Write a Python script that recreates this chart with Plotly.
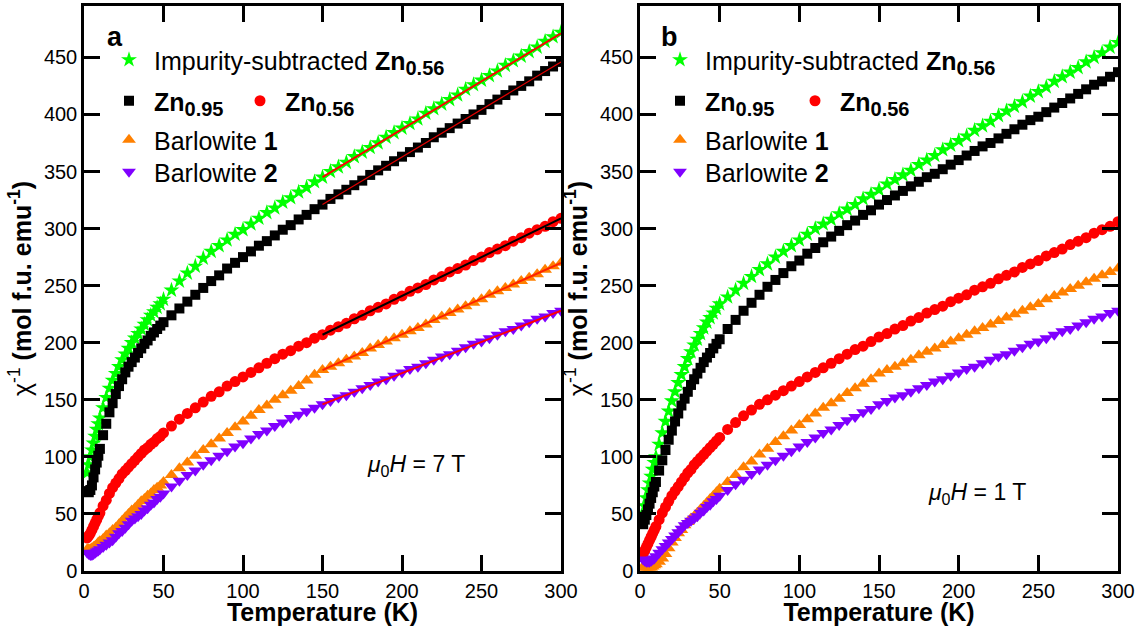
import plotly.graph_objects as go

# Temperature grid (K)
T = [2, 3, 4, 5, 6, 7, 8, 9, 10,
     12, 14, 16, 18, 20, 22, 24, 26, 28, 30, 32, 34, 36, 38, 40, 42, 44, 46, 48, 50,
     55, 60, 65, 70, 75, 80, 85, 90, 95, 100, 105, 110, 115, 120, 125, 130, 135, 140, 145, 150,
     155, 160, 165, 170, 175, 180, 185, 190, 195, 200, 205, 210, 215, 220, 225, 230, 235, 240, 245, 250,
     255, 260, 265, 270, 275, 280, 285, 290, 295, 300]

# ---- Panel a (7 T) ----
green_a = [86, 93, 100, 106, 112, 118, 124, 129, 134,
           143, 152, 160, 167, 173, 179, 185, 190, 195, 200, 204, 208, 212, 216, 220, 224, 227, 231, 234, 238,
           246, 254, 261, 267, 274, 280, 285, 290, 295, 299, 304, 309, 314, 318, 323, 327, 332, 336, 341, 345,
           350, 354, 358, 363, 367, 371, 375, 380, 384, 388, 392, 396, 401, 405, 409, 413, 417, 422, 426, 430,
           434, 438, 443, 447, 451, 455, 459, 464, 468, 472]
black_a = [70, 69, 71, 75, 82, 89, 95, 101, 107,
           119, 129, 139, 147, 155, 162, 168, 174, 179, 183, 187, 191, 195, 199, 202, 206, 209, 212, 215, 218,
           224, 230, 236, 242, 248, 254, 259, 265, 270, 275, 280, 285, 289, 294, 299, 303, 308, 312, 317, 321,
           326, 330, 334, 338, 342, 347, 351, 355, 359, 363, 367, 371, 375, 380, 384, 388, 392, 396, 400, 404,
           409, 413, 417, 421, 425, 429, 434, 438, 442, 446]
red_a = [29, 31, 33, 36, 39, 42, 45, 48, 51,
         57, 62, 68, 73, 77, 81, 85, 88, 91, 94, 97, 100, 103, 106, 108, 111, 113, 116, 118, 121,
         127, 133, 138, 143, 148, 153, 157, 162, 166, 170, 174, 178, 182, 186, 190, 193, 197, 200, 204, 207,
         211, 214, 217, 221, 224, 228, 231, 234, 238, 241, 245, 248, 251, 255, 258, 262, 265, 268, 272, 275,
         279, 282, 285, 289, 292, 296, 299, 302, 306, 309]
orange_a = [19, 19, 19, 20, 21, 22, 23, 25, 26,
            28, 31, 33, 36, 38, 41, 44, 47, 50, 53, 55, 58, 61, 63, 66, 68, 71, 73, 75, 78,
            84, 90, 95, 101, 106, 111, 116, 121, 126, 131, 136, 141, 145, 150, 154, 158, 162, 167, 172, 176,
            179, 182, 185, 188, 191, 195, 198, 201, 204, 207, 210, 213, 216, 220, 223, 226, 229, 232, 235, 238,
            242, 245, 248, 251, 254, 257, 260, 264, 267, 270]
purple_a = [16, 15, 14, 14, 15, 16, 17, 18, 19,
            21, 23, 25, 27, 30, 33, 35, 38, 41, 44, 46, 48, 50, 53, 55, 58, 60, 63, 65, 68,
            74, 79, 84, 88, 93, 97, 101, 105, 109, 112, 116, 120, 123, 127, 130, 134, 137, 140, 143, 146,
            149, 152, 154, 157, 160, 163, 166, 168, 171, 174, 177, 179, 182, 185, 188, 190, 193, 196, 199, 201,
            204, 207, 210, 212, 215, 218, 221, 223, 226, 228]

# Linear fits (panel a)
fit_T = [150, 300]
fit_green_a = [345, 471]
fit_black_a = [321, 446]
fit_red_a = [207, 309]
fit_orange_a = [176, 270]
fit_purple_a = [146, 228]

# ---- Panel b (1 T) ----
green_b = [50, 57, 64, 71, 77, 83, 89, 95, 100,
           111, 121, 131, 140, 149, 157, 165, 172, 179, 186, 192, 198, 203, 208, 213, 218, 222, 226, 230, 234,
           240, 246, 252, 258, 264, 269, 275, 280, 285, 290, 295, 300, 304, 308, 313, 317, 321, 326, 330, 334,
           339, 343, 347, 351, 356, 360, 364, 369, 373, 377, 381, 386, 390, 394, 399, 403, 407, 411, 416, 420,
           424, 429, 433, 437, 441, 446, 450, 454, 459, 463]
black_b = [41, 45, 49, 54, 59, 64, 69, 74, 78,
           88, 97, 106, 115, 123, 131, 138, 145, 151, 157, 163, 168, 173, 178, 183, 187, 191, 195, 199, 203,
           212, 220, 228, 235, 242, 249, 255, 261, 267, 272, 278, 283, 288, 293, 298, 303, 307, 312, 316, 321,
           325, 329, 333, 337, 341, 345, 348, 352, 356, 360, 364, 368, 372, 375, 379, 383, 387, 391, 395, 398,
           402, 406, 410, 414, 418, 422, 426, 429, 433, 437]
red_b = [15, 18, 21, 24, 27, 30, 33, 36, 39,
         45, 51, 56, 61, 66, 70, 74, 78, 82, 86, 89, 93, 96, 99, 102, 105, 108, 111, 114, 117,
         124, 130, 136, 141, 146, 150, 154, 158, 162, 166, 170, 174, 178, 182, 186, 190, 194, 197, 201, 205,
         208, 212, 215, 219, 222, 226, 229, 232, 236, 239, 242, 246, 249, 252, 256, 259, 262, 266, 269, 272,
         276, 279, 282, 286, 289, 292, 296, 299, 302, 306]
orange_b = [4, 3, 3, 3, 3, 3, 4, 5, 6,
            8, 11, 15, 20, 25, 29, 33, 36, 40, 43, 46, 48, 51, 54, 57, 60, 63, 66, 69, 72,
            78, 84, 91, 96, 102, 107, 113, 118, 123, 128, 133, 138, 143, 147, 151, 156, 160, 164, 168, 173,
            176, 179, 182, 185, 189, 192, 195, 198, 201, 204, 207, 210, 213, 216, 219, 222, 225, 228, 231, 234,
            238, 241, 244, 247, 250, 253, 256, 259, 262, 265]
purple_b = [10, 9, 8, 8, 8, 9, 10, 11, 13,
            16, 19, 22, 25, 28, 31, 34, 37, 40, 42, 44, 46, 48, 51, 53, 56, 58, 61, 63, 66,
            71, 76, 80, 85, 89, 93, 97, 101, 105, 109, 113, 117, 121, 124, 128, 132, 135, 139, 142, 146,
            149, 152, 154, 157, 160, 163, 166, 168, 171, 174, 177, 179, 182, 185, 188, 190, 193, 196, 199, 201,
            204, 207, 210, 212, 215, 218, 221, 223, 226, 228]

x_ticks = [0, 50, 100, 150, 200, 250, 300]
y_ticks = [0, 50, 100, 150, 200, 250, 300, 350, 400, 450]

SUB = '<sub><span style="font-size:20px">{}</span></sub>'
names = {
    "green": "Impurity-subtracted <b>Zn" + SUB.format("0.56") + "</b>",
    "black": "<b>Zn" + SUB.format("0.95") + "</b>",
    "red": "<b>Zn" + SUB.format("0.56") + "</b>",
    "orange": "Barlowite <b>1</b>",
    "purple": "Barlowite <b>2</b>",
}
colors = {"green": "#00FF00", "black": "#000000", "red": "#FF0000",
          "orange": "#FF8000", "purple": "#8000FF"}
symbols = {"green": "star", "black": "square", "red": "circle",
           "orange": "triangle-up", "purple": "triangle-down"}
sizes = {"green": 12, "black": 10, "red": 11, "orange": 12, "purple": 12}

FONT = "Liberation Sans, Arial, sans-serif"

fig = go.Figure()

panels = [
    ("x", "y", {"green": green_a, "black": black_a, "red": red_a, "orange": orange_a, "purple": purple_a},
     ["legend", "legend2", "legend2", "legend3", "legend4"]),
    ("x2", "y2", {"green": green_b, "black": black_b, "red": red_b, "orange": orange_b, "purple": purple_b},
     ["legend5", "legend6", "legend6", "legend7", "legend8"]),
]

for xa, ya, series, legs in panels:
    for key, leg in zip(["green", "black", "red", "orange", "purple"], legs):
        fig.add_trace(go.Scatter(
            x=T, y=series[key], mode="markers", name=names[key],
            marker=dict(symbol=symbols[key], size=sizes[key], color=colors[key],
                        line=dict(width=0)),
            xaxis=xa, yaxis=ya, legend=leg, showlegend=True))

fits = [(fit_green_a, "#FF0000", 2), (fit_black_a, "#E00000", 1.2), (fit_red_a, "#000000", 2),
        (fit_orange_a, "#FF2000", 2), (fit_purple_a, "#FF0000", 2)]
for vals, col, w in fits:
    fig.add_trace(go.Scatter(x=fit_T, y=vals, mode="lines", line=dict(color=col, width=w),
                             xaxis="x", yaxis="y", showlegend=False, hoverinfo="skip"))

W, H = 1143, 626
ML, MR, MT, MB = 0, 0, 6, 55
plot_h = H - MT - MB

def px_x(px):
    return px / W

def px_y(py):
    return (H - MB - py) / plot_h

axis_common = dict(ticks="inside", ticklen=16, tickwidth=2.5, tickcolor="black",
                   showline=True, linewidth=2.5, linecolor="black", mirror="ticks",
                   showgrid=False, zeroline=False,
                   tickfont=dict(family=FONT, size=20, color="black"))

xtitle = dict(text="<b>Temperature (K)</b>", font=dict(family=FONT, size=25, color="black"), standoff=2)
ytitle = dict(text="χ<sup>-1</sup><b> (mol f.u. emu<sup>-1</sup>)</b>",
              font=dict(family=FONT, size=25, color="black"), standoff=6)

fig.update_layout(
    width=W, height=H,
    margin=dict(l=ML, r=MR, t=MT, b=MB),
    paper_bgcolor="white", plot_bgcolor="white",
    font=dict(family=FONT, color="black"),
    xaxis=dict(domain=[84 / W, 561 / W], range=[0, 300], tickvals=x_ticks, anchor="y",
               title=xtitle, automargin=False, **axis_common),
    yaxis=dict(domain=[0, 1], range=[0, 495], tickvals=y_ticks, anchor="x",
               title=ytitle, automargin=False, **axis_common),
    xaxis2=dict(domain=[640 / W, 1118 / W], range=[0, 300], tickvals=x_ticks, anchor="y2",
                title=xtitle, automargin=False, **axis_common),
    yaxis2=dict(domain=[0, 1], range=[0, 495], tickvals=y_ticks, anchor="x2",
                title=ytitle, automargin=False, **axis_common),
)

leg_common = dict(bgcolor="rgba(0,0,0,0)", borderwidth=0, font=dict(family=FONT, size=25, color="black"),
                  xanchor="left", yanchor="middle", itemsizing="trace", itemclick=False,
                  itemwidth=40)
rows_y = [60, 101, 140, 172]
for base_x, legnames, ew in [(104, ["legend", "legend2", "legend3", "legend4"], 76),
                             (655, ["legend5", "legend6", "legend7", "legend8"], 80)]:
    for i, (ln, ry) in enumerate(zip(legnames, rows_y)):
        cfg = dict(leg_common, x=px_x(base_x), y=px_y(ry))
        if i == 1:
            cfg.update(orientation="h", entrywidth=ew, entrywidthmode="pixels")
        fig.update_layout({ln: cfg})

ann_font = dict(family=FONT, color="black")
fig.add_annotation(text="<b>a</b>", x=px_x(115), y=px_y(37), xref="paper", yref="paper",
                   xanchor="center", yanchor="middle", showarrow=False, font=dict(ann_font, size=27))
fig.add_annotation(text="<b>b</b>", x=px_x(669), y=px_y(37), xref="paper", yref="paper",
                   xanchor="center", yanchor="middle", showarrow=False, font=dict(ann_font, size=27))
fig.add_annotation(text="<i>μ</i><sub>0</sub><i>H</i> = 7 T", x=px_x(416), y=px_y(466),
                   xref="paper", yref="paper", xanchor="center", yanchor="middle", showarrow=False,
                   font=dict(ann_font, size=23))
fig.add_annotation(text="<i>μ</i><sub>0</sub><i>H</i> = 1 T", x=px_x(977), y=px_y(493),
                   xref="paper", yref="paper", xanchor="center", yanchor="middle", showarrow=False,
                   font=dict(ann_font, size=23))

fig.write_html("out.html")
